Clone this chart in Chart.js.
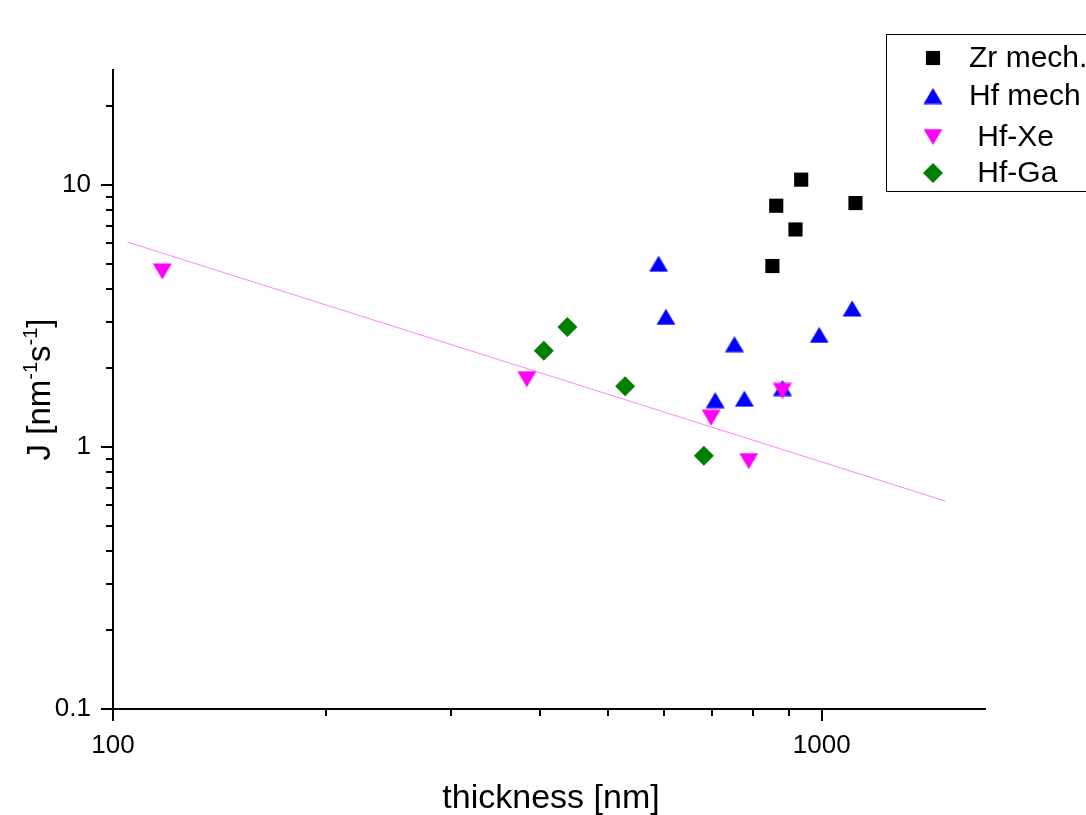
<!DOCTYPE html>
<html>
<head>
<meta charset="utf-8">
<script src="https://cdn.jsdelivr.net/npm/chart.js@4.4.0/dist/chart.umd.min.js"></script>
<style>
  html, body { margin: 0; padding: 0; background: #fff; }
</style>
</head>
<body>
<canvas id="chart" width="1086" height="815"></canvas>
<script>
// thickness [nm] vs J
const zrX = [852, 862.7, 918.4, 935.6, 1116];
const zrY = [4.91, 8.34, 6.77, 10.49, 8.54];

const hfX = [588.7, 602.8, 707.5, 753.3, 778, 880.3, 992, 1104];
const hfY = [5.01, 3.14, 1.51, 2.47, 1.53, 1.68, 2.68, 3.38];

const xeX = [117.4, 383.7, 698.3, 789, 880];
const xeY = [4.68, 1.815, 1.294, 0.884, 1.637];

const gaX = [405.4, 437.7, 528, 682];
const gaY = [2.33, 2.87, 1.706, 0.926];

// fitted line (end points)
const fitX = [104.8, 1494];
const fitY = [6.06, 0.622];

const seriesLabels = ['Zr mech.', 'Hf mech', ' Hf-Xe', ' Hf-Ga'];

const xTicks = [100, 200, 300, 400, 500, 600, 700, 800, 900, 1000];
const xTickLabels = [100, 1000];
const yTicks = [0.1, 0.2, 0.3, 0.4, 0.5, 0.6, 0.7, 0.8, 0.9, 1, 2, 3, 4, 5, 6, 7, 8, 9, 10, 20];
const yTickLabels = [0.1, 1, 10];

const FONT = 'Liberation Sans, Arial, sans-serif';
Chart.defaults.font.family = FONT;
Chart.defaults.color = '#000';

function pts(xs, ys) {
  return xs.map((x, i) => ({ x: x, y: ys[i] }));
}

function triangle(color, down) {
  const c = document.createElement('canvas');
  c.width = 20; c.height = 17;
  const g = c.getContext('2d');
  g.fillStyle = color;
  g.beginPath();
  if (down) {
    g.moveTo(0.5, 0.5); g.lineTo(19.5, 0.5); g.lineTo(10, 16.5);
  } else {
    g.moveTo(10, 0.5); g.lineTo(19.5, 16.5); g.lineTo(0.5, 16.5);
  }
  g.closePath();
  g.fill();
  return c;
}

const upTri = triangle('#0000ff', false);
const downTri = triangle('#ff00ff', true);

const markers = [
  { style: 'rect', radius: 10, color: '#000000' },
  { style: upTri, radius: 10, color: '#0000ff' },
  { style: downTri, radius: 10, color: '#ff00ff' },
  { style: 'rectRot', radius: 10, color: '#008000' }
];

const axisTicks = {
  id: 'axisTicks',
  afterDraw(chart) {
    const ctx = chart.ctx;
    const a = chart.chartArea;
    const xs = chart.scales.x, ys = chart.scales.y;
    ctx.save();
    ctx.strokeStyle = '#000';
    ctx.lineWidth = 2;
    ctx.beginPath();
    xTicks.forEach(v => {
      const px = Math.round(xs.getPixelForValue(v));
      const len = xTickLabels.includes(v) ? 12 : 7;
      ctx.moveTo(px, a.bottom);
      ctx.lineTo(px, a.bottom + len);
    });
    yTicks.forEach(v => {
      const py = Math.round(ys.getPixelForValue(v));
      const len = yTickLabels.includes(v) ? 12 : 7;
      ctx.moveTo(a.left, py);
      ctx.lineTo(a.left - len, py);
    });
    ctx.stroke();

    // axis titles
    ctx.fillStyle = '#000';
    ctx.font = '34px ' + FONT;
    ctx.textAlign = 'center';
    ctx.textBaseline = 'alphabetic';
    ctx.fillText('thickness [nm]', (a.left + a.right) / 2 + 2, 808);

    const parts = [['J [nm', false], ['-1', true], ['s', false], ['-1', true], [']', false]];
    const big = '33px ' + FONT, small = '20px ' + FONT;
    let total = 0;
    parts.forEach(p => { ctx.font = p[1] ? small : big; total += ctx.measureText(p[0]).width; });
    ctx.translate(50, (a.top + a.bottom) / 2);
    ctx.rotate(-Math.PI / 2);
    ctx.textAlign = 'left';
    let cx = -total / 2;
    parts.forEach(p => {
      ctx.font = p[1] ? small : big;
      ctx.fillText(p[0], cx, p[1] ? -13 : 0);
      cx += ctx.measureText(p[0]).width;
    });
    ctx.restore();

    // legend box
    ctx.save();
    ctx.strokeStyle = '#000';
    ctx.lineWidth = 1;
    ctx.strokeRect(886.5, 34.5, 300, 157);
    const rows = [58, 96, 137, 173];
    ctx.font = '30px ' + FONT;
    ctx.textAlign = 'left';
    ctx.textBaseline = 'middle';
    seriesLabels.forEach((lab, i) => {
      const m = markers[i];
      ctx.fillStyle = m.color;
      ctx.strokeStyle = m.color;
      Chart.helpers.drawPoint(ctx, { pointStyle: m.style, radius: m.radius, rotation: 0, borderWidth: 0 }, 933, rows[i]);
      ctx.fillStyle = '#000';
      ctx.fillText(lab, 969, rows[i] + 1);
    });
    ctx.restore();
  }
};

const scatterSet = (i, xs, ys, order) => ({
  type: 'scatter',
  label: seriesLabels[i],
  data: pts(xs, ys),
  pointStyle: markers[i].style,
  pointRadius: markers[i].radius,
  pointBackgroundColor: markers[i].color,
  pointBorderColor: markers[i].color,
  pointBorderWidth: 0,
  order: order
});

new Chart(document.getElementById('chart'), {
  type: 'scatter',
  data: {
    datasets: [
      scatterSet(0, zrX, zrY, 4),
      scatterSet(1, hfX, hfY, 3),
      scatterSet(2, xeX, xeY, 1),
      scatterSet(3, gaX, gaY, 2),
      {
        type: 'line',
        label: 'fit',
        data: pts(fitX, fitY),
        borderColor: '#ff80ff',
        borderWidth: 1,
        pointRadius: 0,
        fill: false,
        order: 5
      }
    ]
  },
  options: {
    responsive: false,
    animation: false,
    layout: { padding: { left: 0, right: 101, top: 70, bottom: 26 } },
    plugins: { legend: { display: false }, tooltip: { enabled: false } },
    scales: {
      x: {
        type: 'logarithmic',
        min: 100,
        max: 1700,
        afterFit: s => { s.height = 80; },
        afterBuildTicks: s => { s.ticks = xTicks.map(v => ({ value: v })); },
        grid: { drawOnChartArea: false, drawTicks: true, tickLength: 12, color: 'rgba(0,0,0,0)' },
        border: { display: true, color: '#000', width: 2 },
        ticks: {
          autoSkip: false,
          maxRotation: 0,
          padding: 9,
          font: { size: 26 },
          callback: v => xTickLabels.includes(v) ? String(v) : ''
        }
      },
      y: {
        type: 'logarithmic',
        min: 0.1,
        max: 27.5,
        afterFit: s => { s.width = 113; },
        afterBuildTicks: s => { s.ticks = yTicks.map(v => ({ value: v })); },
        grid: { drawOnChartArea: false, drawTicks: true, tickLength: 12, color: 'rgba(0,0,0,0)' },
        border: { display: true, color: '#000', width: 2 },
        ticks: {
          autoSkip: false,
          padding: 10,
          font: { size: 26 },
          callback: v => yTickLabels.includes(v) ? String(v) : ''
        }
      }
    }
  },
  plugins: [axisTicks]
});
</script>
</body>
</html>
